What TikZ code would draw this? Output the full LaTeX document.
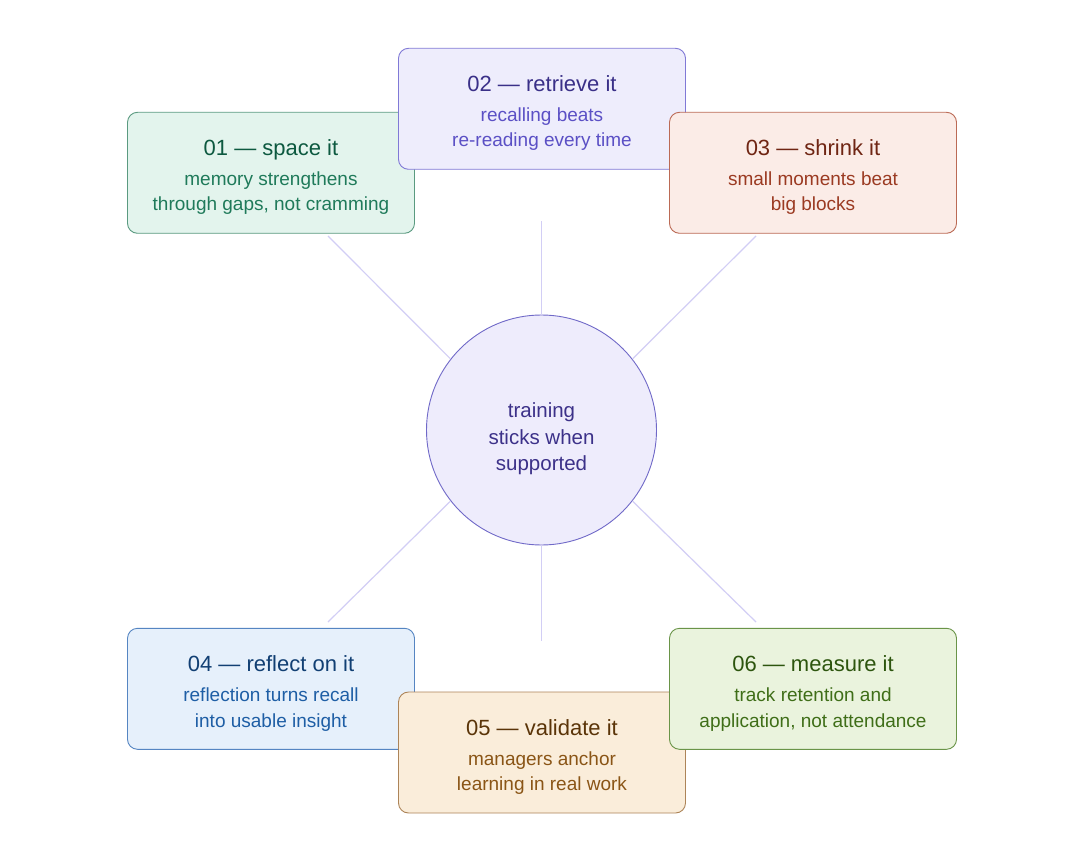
\documentclass[tikz,border=0pt]{standalone}
\usepackage{fontspec}
\setmainfont{Liberation Sans}
\definecolor{fillA}{HTML}{E3F4ED}\definecolor{drawA}{HTML}{5A9A80}\definecolor{titA}{HTML}{0D5940}\definecolor{bodA}{HTML}{1F7A5A}
\definecolor{fillB}{HTML}{EEEDFC}\definecolor{drawB}{HTML}{8079D6}\definecolor{titB}{HTML}{3A3088}\definecolor{bodB}{HTML}{5B50C5}
\definecolor{fillC}{HTML}{FBECE7}\definecolor{drawC}{HTML}{BB6A55}\definecolor{titC}{HTML}{6F2513}\definecolor{bodC}{HTML}{9B3A22}
\definecolor{fillD}{HTML}{E6F0FB}\definecolor{drawD}{HTML}{5585C2}\definecolor{titD}{HTML}{113F73}\definecolor{bodD}{HTML}{1E5EA5}
\definecolor{fillE}{HTML}{FAEDDA}\definecolor{drawE}{HTML}{AD8458}\definecolor{titE}{HTML}{5A3408}\definecolor{bodE}{HTML}{8A5516}
\definecolor{fillF}{HTML}{EAF3DD}\definecolor{drawF}{HTML}{6A9448}\definecolor{titF}{HTML}{2D550E}\definecolor{bodF}{HTML}{3F6E18}
\definecolor{fillO}{HTML}{EEECFC}\definecolor{drawO}{HTML}{7069C8}\definecolor{txtO}{HTML}{3C3189}
\definecolor{spoke}{HTML}{D2CEF5}
\begin{document}
\begin{tikzpicture}[x=1pt,y=-1pt,
  card/.style={rectangle,rounded corners=10pt,minimum width=287pt,minimum height=121pt,line width=0.9pt,inner sep=0pt},
  ttl/.style={anchor=base,inner sep=0pt,font=\fontsize{22}{26}\selectfont},
  bdy/.style={anchor=base,inner sep=0pt,font=\fontsize{19}{25.6}\selectfont},
  ctr/.style={anchor=base,inner sep=0pt,font=\fontsize{20.5}{26}\selectfont,text=txtO},
  spk/.style={draw=spoke,line width=1.2pt}]
\useasboundingbox (0,0) rectangle (1083,850);
\fill[white] (0,0) rectangle (1083,850);
% center
\node[circle,minimum size=230pt,fill=fillO,draw=drawO,line width=0.9pt,inner sep=0pt] (c) at (541.5,430) {};
\node[ctr] (c1) at (541.5,417.3) {training};
\node[ctr] (c2) at (541.5,444) {sticks when};
\node[ctr] (c3) at (541.5,470.7) {supported};
% spoke ends
\coordinate (e1) at (328,236);
\coordinate (e2) at (541.5,221);
\coordinate (e3) at (756,236);
\coordinate (e4) at (328,622);
\coordinate (e5) at (541.5,641);
\coordinate (e6) at (756,622);
\draw[spk] (c.142) -- (e1);
\draw[spk] (c.north) -- (e2);
\draw[spk] (c.38) -- (e3);
\draw[spk] (c.218) -- (e4);
\draw[spk] (c.south) -- (e5);
\draw[spk] (c.322) -- (e6);
% cards
\node[card,fill=fillA,draw=drawA] (b1) at (271,172.8) {};
\node[ttl,text=titA] (t1) at ([yshift=17]b1.center) {01 — space it};
\node[bdy,text=bodA] (p1a) at ([yshift=-12.7]b1.center) {memory strengthens};
\node[bdy,text=bodA] (p1b) at ([yshift=-38.2]b1.center) {through gaps, not cramming};

\node[card,fill=fillB,draw=drawB] (b2) at (542,108.8) {};
\node[ttl,text=titB] (t2) at ([yshift=17]b2.center) {02 — retrieve it};
\node[bdy,text=bodB] (p2a) at ([yshift=-12.7]b2.center) {recalling beats};
\node[bdy,text=bodB] (p2b) at ([yshift=-38.2]b2.center) {re-reading every time};

\node[card,fill=fillC,draw=drawC] (b3) at (813,172.8) {};
\node[ttl,text=titC] (t3) at ([yshift=17]b3.center) {03 — shrink it};
\node[bdy,text=bodC] (p3a) at ([yshift=-12.7]b3.center) {small moments beat};
\node[bdy,text=bodC] (p3b) at ([yshift=-38.2]b3.center) {big blocks};

\node[card,fill=fillD,draw=drawD] (b4) at (271,688.8) {};
\node[ttl,text=titD] (t4) at ([yshift=17]b4.center) {04 — reflect on it};
\node[bdy,text=bodD] (p4a) at ([yshift=-12.7]b4.center) {reflection turns recall};
\node[bdy,text=bodD] (p4b) at ([yshift=-38.2]b4.center) {into usable insight};

\node[card,fill=fillE,draw=drawE] (b5) at (542,752.5) {};
\node[ttl,text=titE] (t5) at ([yshift=17]b5.center) {05 — validate it};
\node[bdy,text=bodE] (p5a) at ([yshift=-12.7]b5.center) {managers anchor};
\node[bdy,text=bodE] (p5b) at ([yshift=-38.2]b5.center) {learning in real work};

\node[card,fill=fillF,draw=drawF] (b6) at (813,688.8) {};
\node[ttl,text=titF] (t6) at ([yshift=17]b6.center) {06 — measure it};
\node[bdy,text=bodF] (p6a) at ([yshift=-12.7]b6.center) {track retention and};
\node[bdy,text=bodF] (p6b) at ([yshift=-38.2]b6.center) {application, not attendance};
\end{tikzpicture}
\end{document}
